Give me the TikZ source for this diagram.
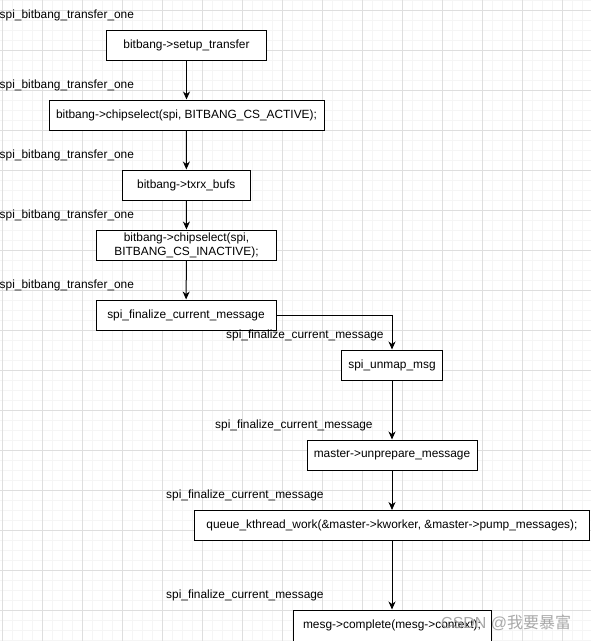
\documentclass[tikz,border=0pt]{standalone}
\usepackage{fontspec}
\setmainfont{Liberation Sans}
\newfontfamily\cjkfont{Noto Sans CJK SC}
\usetikzlibrary{arrows.meta}
\definecolor{gridmajor}{HTML}{DEDEDE}
\definecolor{gridminor}{HTML}{F5F5F5}
\definecolor{wmgray}{HTML}{A0A0A0}
\tikzset{
  box/.style={draw=black, line width=1pt, fill=white, rectangle, inner sep=0pt,
    minimum height=30pt, align=center, font=\fontsize{11.9}{14}\selectfont},
  lbl/.style={inner sep=0pt, font=\fontsize{11.9}{13}\selectfont},
  conn/.style={draw=black, line width=1pt, -{Stealth[length=8pt,width=7pt,inset=2.5pt]}},
}
\begin{document}
\begin{tikzpicture}[x=1pt,y=-1pt]
\useasboundingbox (0,0) rectangle (591,641);
\fill[white] (0,0) rectangle (591,641);
% grid
\foreach \k in {0,...,59} {
  \draw[gridminor, line width=0.6pt] (2.3+10*\k,0) -- (2.3+10*\k,641);
}
\foreach \k in {0,...,64} {
  \draw[gridminor, line width=0.6pt] (0,0.3+10*\k) -- (591,0.3+10*\k);
}
\foreach \k in {0,...,14} {
  \draw[gridmajor, line width=0.8pt] (2.3+40*\k,0) -- (2.3+40*\k,641);
}
\foreach \k in {0,...,15} {
  \draw[gridmajor, line width=0.8pt] (0,10.3+40*\k) -- (591,10.3+40*\k);
}
% boxes
\node[box, minimum width=160pt] (b1) at (186.5,45) {bitbang->setup\_transfer};
\node[box, minimum width=275pt] (b2) at (186.5,115) {bitbang->chipselect(spi, BITBANG\_CS\_ACTIVE);};
\node[box, minimum width=128pt] (b3) at (186.3,185) {bitbang->txrx\_bufs};
\node[box, minimum width=180pt] (b4) at (186.5,245) {bitbang->chipselect(spi,\\BITBANG\_CS\_INACTIVE);};
\node[box, minimum width=180pt] (b5) at (186,315) {spi\_finalize\_current\_message};
\node[box, minimum width=101pt] (b6) at (392,365) {spi\_unmap\_msg};
\node[box, minimum width=170pt] (b7) at (392,455) {master->unprepare\_message};
\node[box, minimum width=395pt] (b8) at (392,525.5) {queue\_kthread\_work(\&master->kworker, \&master->pump\_messages);};
\node[box, minimum width=198pt, minimum height=31pt] (b9) at (392,625.5) {\raisebox{0.5pt}{mesg->complete(mesg->context);}};
% connectors
\draw[conn] (b1) -- (b2);
\draw[conn] (b2) -- (b3);
\draw[conn] (b3) -- (b4);
\draw[conn] (b4) -- (b5);
\coordinate (c56) at (392,315);
\draw[conn] (b5.east) -- (c56) -- (b6.north);
\draw[conn] (b6) -- (b7);
\draw[conn] (b7) -- (b8);
\draw[conn] (b8) -- (b9);
% labels
\node[lbl, anchor=west] (l1) at (-0.5,15) {spi\_bitbang\_transfer\_one};
\node[lbl, anchor=west] (l2) at (-0.5,85) {spi\_bitbang\_transfer\_one};
\node[lbl, anchor=west] (l3) at (-0.5,155) {spi\_bitbang\_transfer\_one};
\node[lbl, anchor=west] (l4) at (-0.5,215) {spi\_bitbang\_transfer\_one};
\node[lbl, anchor=west] (l5) at (-0.5,285) {spi\_bitbang\_transfer\_one};
\node[lbl, anchor=west] (l6) at (226,335) {spi\_finalize\_current\_message};
\node[lbl, anchor=west] (l7) at (215,425) {spi\_finalize\_current\_message};
\node[lbl, anchor=west] (l8) at (166,495) {spi\_finalize\_current\_message};
\node[lbl, anchor=west] (l9) at (166,595) {spi\_finalize\_current\_message};
% watermark
\node[anchor=west, inner sep=0pt, text=wmgray, opacity=0.9, font=\fontsize{16}{17}\selectfont] (wm) at (441,623) {CSDN @{\cjkfont 我要暴富}};
\end{tikzpicture}
\end{document}
